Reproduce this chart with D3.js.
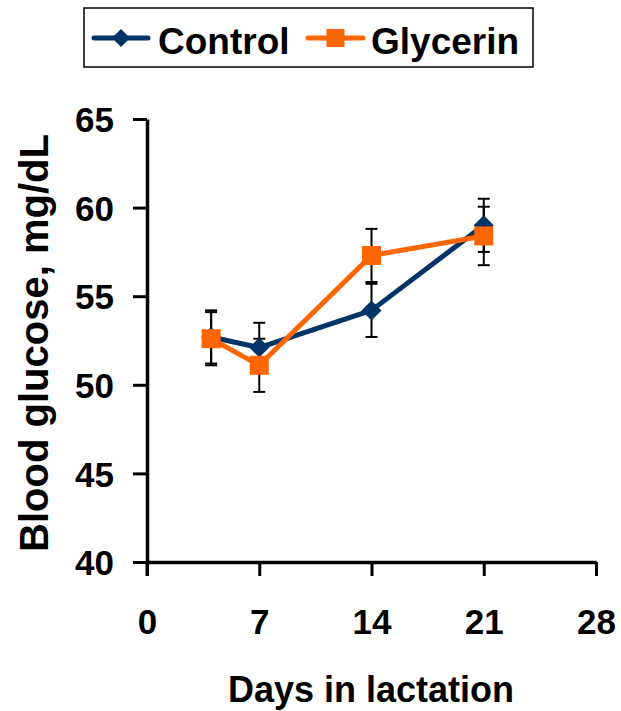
<!DOCTYPE html>
<html>
<head>
<meta charset="utf-8">
<script src="https://cdn.jsdelivr.net/npm/d3@7"></script>
<style>
  html, body { margin: 0; padding: 0; background: #fff; }
  text { font-family: "Liberation Sans", Arial, sans-serif; font-weight: bold; fill: #000; }
</style>
</head>
<body>
<svg id="chart" width="621" height="711"></svg>
<script>
const days = [4, 7, 14, 21];
const controlValues = [52.7, 52.1, 54.2, 59.0];
const controlErrors = [1.5, 1.4, 1.5, 1.5];
const glycerinValues = [52.6, 51.1, 57.3, 58.4];
const glycerinErrors = [1.5, 1.5, 1.5, 1.65];
const xTicks = [0, 7, 14, 21, 28];
const yTicks = [40, 45, 50, 55, 60, 65];
const seriesNames = ["Control", "Glycerin"];
const seriesColors = ["#003366", "#FF6600"];
const xTitle = "Days in lactation";
const yTitle = "Blood glucose, mg/dL";

const svg = d3.select("#chart");
const x = d3.scaleLinear().domain([0, 28]).range([147, 596]);
const y = d3.scaleLinear().domain([40, 65]).range([562, 119]);

// axes
const xAxis = svg.append("g").attr("transform", `translate(0,${y(40)})`)
  .call(d3.axisBottom(x).tickValues(xTicks).tickSize(14).tickSizeOuter(0).tickFormat(d3.format("d")));
xAxis.select(".domain").attr("stroke", "#000").attr("stroke-width", 3.5);
xAxis.selectAll(".tick line").attr("stroke", "#000").attr("stroke-width", 3);
xAxis.selectAll(".tick text").attr("font-size", 35).attr("dy", 0).attr("y", 72)
  .style("font-family", '"Liberation Sans", Arial, sans-serif').style("font-weight", "bold").attr("fill", "#000");

const yAxis = svg.append("g").attr("transform", `translate(${x(0)},0)`)
  .call(d3.axisLeft(y).tickValues(yTicks).tickSize(14).tickSizeOuter(0).tickFormat(d3.format("d")));
yAxis.select(".domain").attr("stroke", "#000").attr("stroke-width", 3.5);
yAxis.selectAll(".tick line").attr("stroke", "#000").attr("stroke-width", 3);
yAxis.selectAll(".tick text").attr("font-size", 35).attr("x", -33).attr("dy", "0.36em")
  .style("font-family", '"Liberation Sans", Arial, sans-serif').style("font-weight", "bold").attr("fill", "#000");

// extend y axis down as tick at x=0
svg.append("line").attr("x1", x(0)).attr("x2", x(0)).attr("y1", y(40)).attr("y2", y(40) + 14)
  .attr("stroke", "#000").attr("stroke-width", 3);

// titles
svg.append("text").attr("x", 371).attr("y", 702).attr("text-anchor", "middle")
  .attr("font-size", 36).text(xTitle);
svg.append("text").attr("transform", `translate(48,343) rotate(-90)`).attr("text-anchor", "middle")
  .attr("font-size", 40).text(yTitle);

const series = [
  { name: seriesNames[0], color: seriesColors[0], values: controlValues, errors: controlErrors, shape: "diamond" },
  { name: seriesNames[1], color: seriesColors[1], values: glycerinValues, errors: glycerinErrors, shape: "square" }
];

const line = d3.line().x(d => x(d.day)).y(d => y(d.v));

// error bars
series.forEach(s => {
  const g = svg.append("g");
  days.forEach((d, i) => {
    const cx = x(d), top = y(s.values[i] + s.errors[i]), bot = y(s.values[i] - s.errors[i]);
    g.append("line").attr("x1", cx).attr("x2", cx).attr("y1", top).attr("y2", bot)
      .attr("stroke", "#000").attr("stroke-width", 2);
    [top, bot].forEach(yy => g.append("line").attr("x1", cx - 6).attr("x2", cx + 6)
      .attr("y1", yy).attr("y2", yy).attr("stroke", "#000").attr("stroke-width", 2));
  });
});

function drawMarker(g, shape, cx, cy, color, scale) {
  if (shape === "diamond") {
    const w = 10 * scale, h = 10 * scale;
    g.append("path").attr("d", `M${cx},${cy - h}L${cx + w},${cy}L${cx},${cy + h}L${cx - w},${cy}Z`)
      .attr("fill", color);
  } else {
    const s = 9.5 * scale;
    g.append("rect").attr("x", cx - s).attr("y", cy - s).attr("width", 2 * s).attr("height", 2 * s)
      .attr("fill", color);
  }
}

series.forEach(s => {
  const pts = days.map((d, i) => ({ day: d, v: s.values[i] }));
  const g = svg.append("g");
  g.append("path").attr("d", line(pts)).attr("fill", "none").attr("stroke", s.color)
    .attr("stroke-width", 5).attr("stroke-linejoin", "round");
  pts.forEach(p => drawMarker(g, s.shape, x(p.day), y(p.v), s.color, 1));
});

// legend
const lg = svg.append("g");
lg.append("rect").attr("x", 84).attr("y", 8).attr("width", 449).attr("height", 59)
  .attr("fill", "#fff").attr("stroke", "#000").attr("stroke-width", 1.5);
const legendPos = [{ x1: 94, x2: 148, tx: 158 }, { x1: 308, x2: 363, tx: 371 }];
series.forEach((s, i) => {
  const p = legendPos[i];
  lg.append("line").attr("x1", p.x1).attr("x2", p.x2).attr("y1", 38).attr("y2", 38)
    .attr("stroke", s.color).attr("stroke-width", 5).attr("stroke-linecap", "round");
  drawMarker(lg, s.shape, (p.x1 + p.x2) / 2, 38, s.color, s.shape === "diamond" ? 0.9 : 0.95);
  lg.append("text").attr("x", p.tx).attr("y", 54).attr("font-size", 37).text(s.name);
});
</script>
</body>
</html>
